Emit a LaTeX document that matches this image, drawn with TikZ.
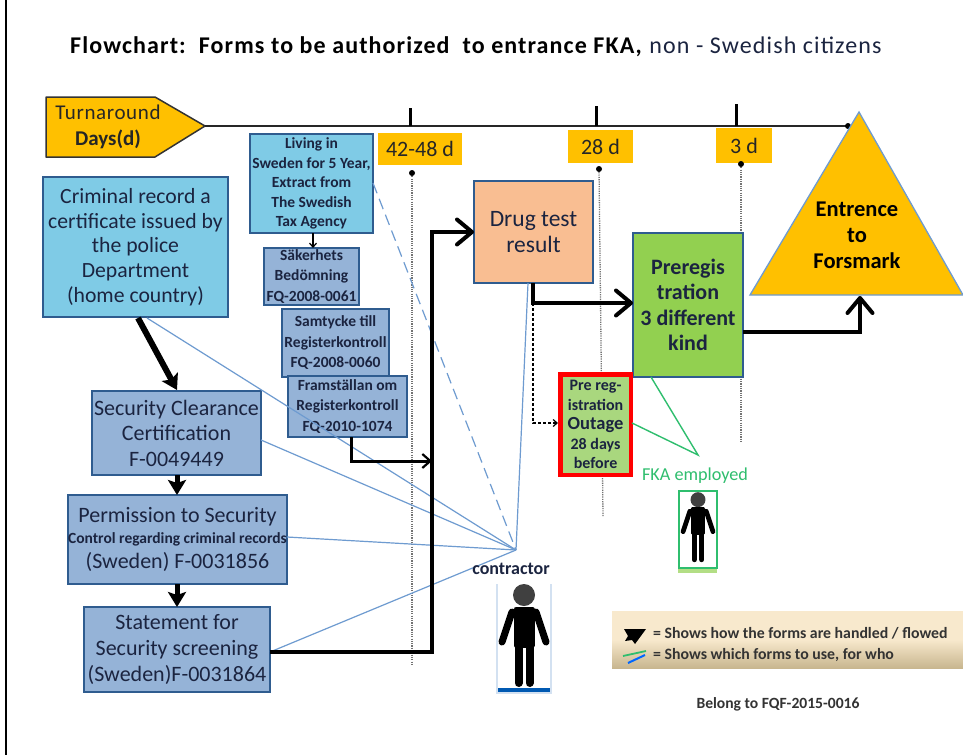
\documentclass[tikz,border=0pt]{standalone}
\usepackage{fontspec}
\setmainfont{Carlito}
\usetikzlibrary{arrows.meta,shadings}
\definecolor{orangeb}{HTML}{FFC000}
\definecolor{lightblue}{HTML}{7FCBE6}
\definecolor{midblue}{HTML}{95B3D7}
\definecolor{edgeblue}{HTML}{2F5C8F}
\definecolor{thinblue}{HTML}{6E9BD0}
\definecolor{peach}{HTML}{F9BE92}
\definecolor{leaf}{HTML}{92D050}
\definecolor{paleleaf}{HTML}{A9D77E}
\definecolor{fkagreen}{HTML}{2FBE6E}
\definecolor{inkblue}{HTML}{1B2440}
\definecolor{legtop}{HTML}{F8E9CD}
\definecolor{legbot}{HTML}{C8B68F}
\tikzset{
  box/.style={draw=edgeblue,line width=1.3pt,align=center,inner sep=0pt,outer sep=0pt,anchor=north west,text=inkblue},
  boxsize/.style n args={2}{minimum width=#1pt,minimum height=#2pt},
  lightbox/.style={box,fill=lightblue},
  midbox/.style={box,fill=midblue},
  daylabel/.style={fill=orangeb,inner sep=0pt,outer sep=0pt,anchor=north west,font=\fontsize{22}{24}\selectfont,text=black!85},
  timeline/.style={black!85,line width=1.6pt},
  tick/.style={black,line width=3pt},
  dots/.style={black!55,line width=1.3pt,dash pattern=on 1.2pt off 1.1pt},
  dotend/.style={circle,fill=black,inner sep=0pt,minimum size=6pt},
  flow/.style={black,line width=4pt,line join=miter,-{Straight Barb[length=15pt,width=25pt,line width=4pt,round]}},
  flowmid/.style={black,line width=3pt,-{Straight Barb[length=8pt,width=14pt,line width=2.2pt]}},
  flowhead/.style={black,line width=5pt,-{Stealth[length=15pt,width=18pt,inset=3pt]}},
  thin form/.style={thinblue,line width=1.2pt},
  green form/.style={fkagreen,line width=1.4pt},
  smallform/.style={midbox,font=\fontsize{15.5}{20.5}\selectfont\bfseries},
}
\newcommand{\drawperson}[4]{% cx, top, scale, head colour
  \begin{scope}[shift={(#1,#2)},scale=#3]
    \fill[#4] (0,-12) circle (11);
    \draw[black,line width=#3*5pt,line cap=round,line join=round,fill=black]
      (-8,-26) -- (8,-26) -- (8,-62) -- (-8,-62) -- cycle;
    \draw[black,line width=#3*7pt,line cap=round] (-12,-29) -- (-22,-59);
    \draw[black,line width=#3*7pt,line cap=round] (12,-29) -- (22,-59);
    \draw[black,line width=#3*8pt,line cap=round] (-5.5,-60) -- (-5.5,-100);
    \draw[black,line width=#3*8pt,line cap=round] (5.5,-60) -- (5.5,-100);
  \end{scope}}
\begin{document}
\begin{tikzpicture}[x=1pt,y=1pt]
\useasboundingbox (0,0) rectangle (963,-755);
\fill[white] (0,0) rectangle (963,-755);
\draw[black,line width=2pt] (6,0) -- (6,-755);
\node[anchor=west,inner sep=0pt,text=black,font=\fontsize{24}{26}\selectfont] (title) at (70,-47)
  {\addfontfeatures{LetterSpace=4.6}\textbf{Flowchart:\ \ Forms to be authorized\ \ to entrance FKA,} {\color{inkblue}non - Swedish citizens}};

% timeline
\coordinate (tend) at (848,-126);
\coordinate (turnshape) at (205,-126);
\fill[orangeb,draw=black!80,line width=1.5pt,line join=round] (46,-97) -- (155,-97) -- (205,-126) -- (155,-157) -- (46,-157) -- cycle;
\node[align=center,inner sep=0pt,text=black!85,font=\fontsize{21}{26}\selectfont] (turn) at (108,-127) {{\addfontfeatures{LetterSpace=3}Turnaround}\\\textbf{Days(d)}};
\draw[timeline] (turnshape) -- (tend);
\fill[black] (tend) circle (3);
\coordinate (t1) at (410,-108); \coordinate (t1b) at (410,-126);
\coordinate (t2) at (596,-106); \coordinate (t2b) at (596,-126);
\coordinate (t3) at (736,-104); \coordinate (t3b) at (736,-126);
\node[daylabel,minimum width=84pt,minimum height=32pt] (d1) at (378,-133) {42-48 d};
\node[daylabel,minimum width=65pt,minimum height=33pt] (d2) at (568,-130) {28 d};
\node[daylabel,minimum width=56pt,minimum height=35pt] (d3) at (716,-128) {3 d};
\draw[tick] (t1) -- (t1b); \draw[tick] (t2) -- (t2b); \draw[tick] (t3) -- (t3b);

% dotted verticals
\node[dotend] (v1) at (412,-173) {};
\node[dotend] (v2) at (599,-169) {};
\node[dotend] (v3) at (741,-164) {};
\coordinate (v1e) at (412,-665); \coordinate (v2e) at (603,-516); \coordinate (v3e) at (741,-443);
\draw[dots] (v1) -- (v1e); \draw[dots] (v2) -- (v2e); \draw[dots] (v3) -- (v3e);

% target triangle
\fill[orangeb,draw=thinblue,line width=1.3pt,line join=miter] (859,-112) -- (963,-295) -- (750,-295) -- cycle;
\node[align=center,inner sep=0pt,text=black,font=\fontsize{22.5}{26}\selectfont\bfseries] (target) at (857,-235) {Entrence\\to\\Forsmark};
\coordinate (targetin) at (860,-296);

% boxes
\node[lightbox,boxsize={185}{140},font=\fontsize{21.7}{24.7}\selectfont] (crim) at (43,-177)
  {Criminal record a\\certificate issued by\\the police\\Department\\(home country)};
\node[lightbox,boxsize={123}{99},font=\fontsize{15.5}{19.5}\selectfont\bfseries] (living) at (250,-134)
  {Living in\\Sweden for 5 Year,\\Extract from\\The Swedish\\Tax Agency};
\node[smallform,boxsize={95}{57}] (sak) at (264,-248)
  {Säkerhets\\Bedömning\\FQ-2008-0061};
\node[smallform,boxsize={107}{68}] (sam) at (282,-309)
  {Samtycke till\\Registerkontroll\\FQ-2008-0060};
\node[smallform,boxsize={119}{61}] (fram) at (288,-376)
  {Framställan om\\Registerkontroll\\FQ-2010-1074};
\node[midbox,boxsize={169}{84},font=\fontsize{22}{25.5}\selectfont] (sec) at (92,-391)
  {Security Clearance\\Certification\\F-0049449};
\node[midbox,boxsize={219}{89},font=\fontsize{22}{25}\selectfont] (perm) at (68,-495)
  {Permission to Security\\[-4pt]{\fontsize{15.5}{17}\selectfont\bfseries Control regarding criminal records}\\(Sweden) F-0031856};
\node[midbox,boxsize={186}{85},font=\fontsize{22}{26}\selectfont] (stat) at (84,-607)
  {Statement for\\Security screening\\(Sweden)F-0031864};
\node[box,fill=peach,boxsize={119}{102},font=\fontsize{23.5}{26}\selectfont] (drug) at (474,-181)
  {Drug test\\result};
\node[box,fill=leaf,boxsize={110}{144},font=\fontsize{22}{25.5}\selectfont\bfseries] (prereg) at (633,-233)
  {Preregis\\tration\\3 different\\kind};
\node[box,draw=red,line width=4.5pt,fill=paleleaf,
  boxsize={70.5}{100.5},font=\fontsize{16}{19.5}\selectfont\bfseries] (out) at (560.3,-374.3)
  {Pre reg-\\istration\\{\fontsize{18.5}{19.5}\selectfont Outage}\\28 days\\before};

% contractor lines
\coordinate (hub) at (516,-550);
\coordinate (crimfoot) at (147,-318);
\coordinate (secside) at (261,-440);
\coordinate (permside) at (287,-537);
\coordinate (drugfoot) at (528,-283);
\coordinate (livside) at (373,-183);
\coordinate (statout) at (270,-652);
\draw[thin form] (crimfoot) -- (hub);
\draw[thin form] (secside) -- (hub);
\draw[thin form] (permside) -- (hub);
\draw[thin form] (statout) -- (hub);
\draw[thin form] (drugfoot) -- (hub);
\draw[thin form,dash pattern=on 11pt off 6pt] (livside) -- (hub);

% black flow connectors
\coordinate (join) at (432,-652);
\coordinate (joinT) at (432,-232);
\coordinate (drugin) at (474,-232);
\draw[flow] (statout) -- (join) -- (joinT) -- (drugin);
\coordinate (framout) at (351,-437);
\coordinate (framc) at (351,-461);
\coordinate (framin) at (432,-461);
\draw[flowmid] (framout) -- (framc) -- (framin);
\coordinate (crimout) at (138,-318);
\coordinate (secin) at (177,-390);
\draw[flowhead,line width=6pt] (crimout) -- (secin);
\coordinate (secout) at (177,-475);
\coordinate (permin) at (177,-495);
\draw[flowhead] (secout) -- (permin);
\coordinate (permout) at (177,-584);
\coordinate (statin) at (177,-607);
\draw[flowhead] (permout) -- (statin);
\coordinate (livout) at (313,-233);
\coordinate (sakin) at (313,-248);
\draw[black,line width=1.2pt,-{Straight Barb[length=4pt,width=7pt]}] (livout) -- (sakin);
\coordinate (drugout) at (533,-283);
\coordinate (drugc) at (533,-303);
\coordinate (pregin) at (633,-303);
\draw[flow] (drugout) -- (drugc) -- (pregin);
\coordinate (pregout) at (743,-332);
\coordinate (pregc) at (860,-332);
\draw[flow] (pregout) -- (pregc) -- (targetin);
\coordinate (outin) at (558,-423);
\coordinate (dashc) at (533,-423);
\draw[black,line width=1.2pt,densely dashed,-{Straight Barb[length=4pt,width=7pt]}] (drugc) -- (dashc) -- (outin);

% FKA lines
\coordinate (gapex) at (698,-455);
\coordinate (pregfoot) at (651,-377);
\coordinate (outside) at (632,-423);
\draw[green form] (pregfoot) -- (gapex) -- (outside);

% people
\node[inner sep=0pt,font=\fontsize{18}{20}\selectfont\bfseries,text=inkblue] (contr) at (511,-569) {contractor};
\fill[thinblue!30] (496,-584) rectangle (552,-694);
\fill[blue!50!cyan!70!black] (498,-688) rectangle (550,-692);
\node[fill=white,inner sep=0pt,outer sep=0pt,minimum width=52pt,minimum height=106pt,anchor=north west] (cperson) at (498,-582) {};
\drawperson{524}{-583}{1.0}{black!75}
\node[inner sep=0pt,font=\fontsize{18.2}{20}\selectfont,text=fkagreen] (fka) at (695,-476) {FKA employed};
\fill[leaf!70] (678,-565) rectangle (717,-573);
\node[draw=fkagreen,line width=1.8pt,fill=white,inner sep=0pt,outer sep=0pt,minimum width=38pt,minimum height=77pt,anchor=north west] (fperson) at (679,-491) {};
\drawperson{698}{-491.5}{0.68}{black!75}

% legend
\shade[top color=legtop,bottom color=legbot,middle color=legtop] (612,-611) rectangle (963,-668);
\node[inner sep=0pt,anchor=west,font=\fontsize{15.8}{17}\selectfont\bfseries,text=black!80] (leg1) at (653,-633) {= Shows how the forms are handled / flowed};
\node[inner sep=0pt,anchor=west,font=\fontsize{15.8}{17}\selectfont\bfseries,text=black!80] (leg2) at (653,-655) {= Shows which forms to use, for who};
\fill[black] (624,-629) -- (646,-629) -- (635,-644) -- (632,-640) -- (625,-641) -- (628,-636) -- cycle;
\coordinate (lg1) at (623,-656); \coordinate (lg2) at (646,-651);
\coordinate (lb1) at (628,-663); \coordinate (lb2) at (645,-655);
\draw[fkagreen,line width=1.8pt] (lg1) -- (lg2);
\draw[blue!60!cyan,line width=2pt] (lb1) -- (lb2);
\node[inner sep=0pt,font=\fontsize{15.6}{17}\selectfont\bfseries,text=black!80] (belong) at (778,-704) {Belong to FQF-2015-0016};
\end{tikzpicture}
\end{document}
